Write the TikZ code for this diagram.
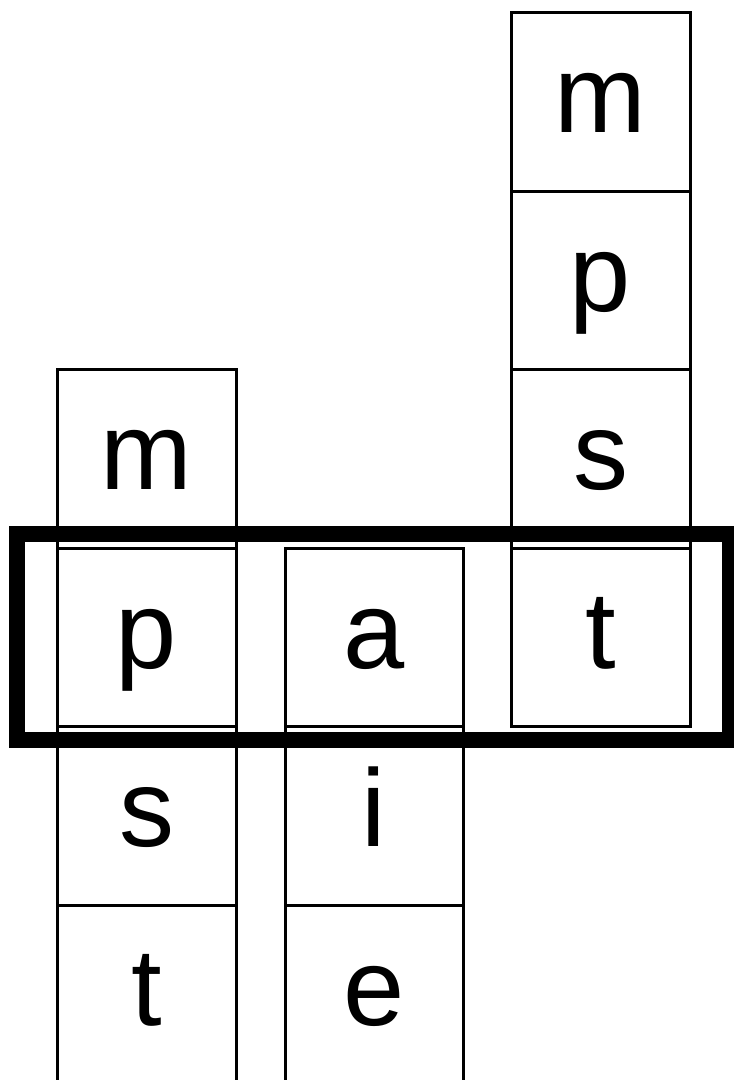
\documentclass[tikz,border=0pt]{standalone}
\usepackage{fontspec}
\setmainfont{Liberation Sans}
\begin{document}
\begin{tikzpicture}[x=1pt,y=-1pt,
  cell/.style={draw=black,line width=3pt,minimum width=179pt,minimum height=178.5pt,
    inner sep=0pt,outer sep=0pt,text height=61pt,text depth=0pt,
    font=\fontsize{110}{110}\selectfont},
  focusbox/.style={draw=black,line width=16pt}]
\useasboundingbox (0,0) rectangle (734,1080);
\clip (0,0) rectangle (734,1080);
\fill[white] (0,0) rectangle (734,1080);
% column 1
\node[cell] (c1m) at (146.5,459) {m};
\node[cell] (c1p) at (146.5,637.5) {p};
\node[cell] (c1s) at (146.5,816) {s};
\node[cell] (c1t) at (146.5,994.5) {t};
% column 2
\node[cell,minimum width=178pt] (c2a) at (374,637.5) {a};
\node[cell,minimum width=178pt] (c2i) at (374,816) {i};
\node[cell,minimum width=178pt] (c2e) at (374,994.5) {e};
% column 3
\node[cell] (c3m) at (600.5,102) {m};
\node[cell] (c3p) at (600.5,280.5) {p};
\node[cell] (c3s) at (600.5,459) {s};
\node[cell] (c3t) at (600.5,637.5) {t};
% highlight frame
\draw[focusbox] (17,534) rectangle (730,740);
\end{tikzpicture}
\end{document}
